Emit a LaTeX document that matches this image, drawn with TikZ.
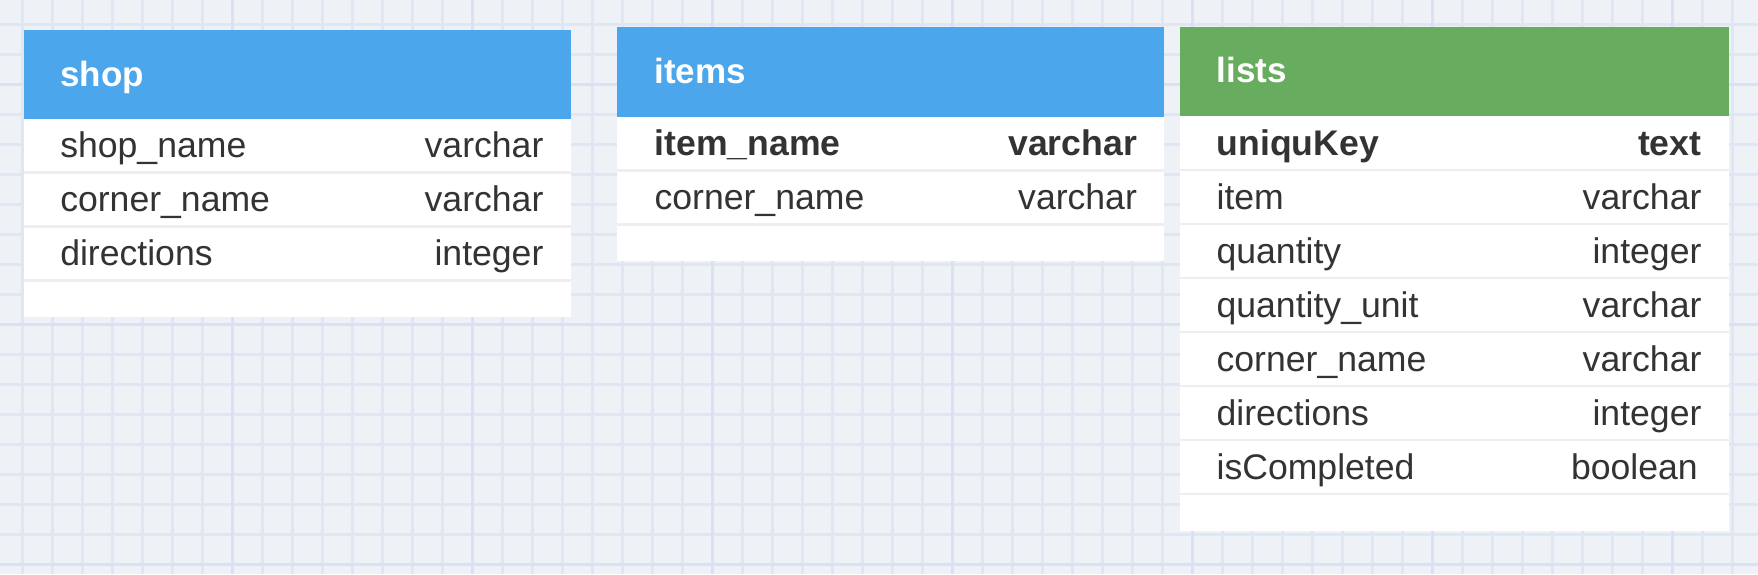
\documentclass[tikz,border=0pt]{standalone}
\usepackage{fontspec}
\setmainfont{Liberation Sans}
\definecolor{bgcol}{HTML}{EEF1F5}
\definecolor{gridminor}{HTML}{E0E7F4}
\definecolor{gridmajor}{HTML}{D9E2F4}
\definecolor{hblue}{HTML}{4CA6EC}
\definecolor{hgreen}{HTML}{68AD5F}
\definecolor{txt}{HTML}{333333}
\definecolor{sepcol}{HTML}{EEEEEE}
\tikzset{
  minorline/.style={draw=gridminor,line width=2.4pt},
  majorline/.style={draw=gridmajor,line width=2.7pt},
  fieldname/.style={anchor=base west,inner sep=0pt,text=txt,font=\fontsize{35.6}{40}\selectfont},
  fieldtype/.style={anchor=base east,inner sep=0pt,text=txt,font=\fontsize{35.6}{40}\selectfont},
  keyname/.style={fieldname,font=\fontsize{35.6}{40}\selectfont\bfseries},
  keytype/.style={fieldtype,font=\fontsize{35.6}{40}\selectfont\bfseries},
  title/.style={anchor=base west,inner sep=0pt,text=white,font=\fontsize{35}{40}\selectfont\bfseries},
  seprule/.style={draw=sepcol,line width=2.7pt},
}
\begin{document}
\begin{tikzpicture}[x=1pt,y=-1pt]
\useasboundingbox (0,0) rectangle (1758,574);
\fill[bgcol] (0,0) rectangle (1758,574);
% grid
\foreach \i in {0,...,57} {\draw[minorline] ({22.3+30*\i},0) -- ({22.3+30*\i},574);}
\foreach \j in {0,...,18} {\draw[minorline] (0,{24.3+30*\j}) -- (1758,{24.3+30*\j});}
\foreach \i in {0,...,6} {\draw[majorline] ({232.3+240*\i},0) -- ({232.3+240*\i},574);}
\foreach \j in {0,...,2} {\draw[majorline] (0,{84.3+240*\j}) -- (1758,{84.3+240*\j});}

% ---------- shop ----------
\fill[white] (24.1,29.5) rectangle (570.6,317);
\fill[hblue] (24.1,29.5) rectangle (570.6,118.5);
\foreach \k in {1,2,3} {\draw[seprule] (24.1,{118.5+54*\k}) -- (570.6,{118.5+54*\k});}
\node[title] (shopT) at (60.1,86) {shop};
\node[fieldname] (shopA) at (60.1,157.5) {shop\_name};
\node[fieldtype] (shopAt) at (543.6,157.5) {varchar};
\node[fieldname] (shopB) at (60.1,211.5) {corner\_name};
\node[fieldtype] (shopBt) at (543.6,211.5) {varchar};
\node[fieldname] (shopC) at (60.1,265.5) {directions};
\node[fieldtype] (shopCt) at (543.6,265.5) {integer};

% ---------- items ----------
\fill[white] (617.4,27) rectangle (1164.1,261);
\fill[hblue] (617.4,27) rectangle (1164.1,116.8);
\foreach \k in {1,2} {\draw[seprule] (617.4,{116.5+54*\k}) -- (1164.1,{116.5+54*\k});}
\node[title] (itemsT) at (654.4,83.5) {items};
\node[keyname] (itemsA) at (654.4,155.5) {item\_name};
\node[keytype] (itemsAt) at (1137.1,155.5) {varchar};
\node[fieldname] (itemsB) at (654.4,209.5) {corner\_name};
\node[fieldtype] (itemsBt) at (1137.1,209.5) {varchar};

% ---------- lists ----------
\fill[white] (1179.5,26.5) rectangle (1729,530.5);
\fill[hgreen] (1179.5,26.5) rectangle (1729,116.2);
\foreach \k in {1,...,7} {\draw[seprule] (1179.5,{116+54*\k}) -- (1729,{116+54*\k});}
\node[title] (listsT) at (1216.4,82.5) {lists};
\node[keyname] (listsA) at (1216.4,155) {uniquKey};
\node[keytype] (listsAt) at (1701.6,155) {text};
\node[fieldname] (listsB) at (1216.4,209) {item};
\node[fieldtype] (listsBt) at (1701.6,209) {varchar};
\node[fieldname] (listsC) at (1216.4,263) {quantity};
\node[fieldtype] (listsCt) at (1701.6,263) {integer};
\node[fieldname] (listsD) at (1216.4,317) {quantity\_unit};
\node[fieldtype] (listsDt) at (1701.6,317) {varchar};
\node[fieldname] (listsE) at (1216.4,371) {corner\_name};
\node[fieldtype] (listsEt) at (1701.6,371) {varchar};
\node[fieldname] (listsF) at (1216.4,425) {directions};
\node[fieldtype] (listsFt) at (1701.6,425) {integer};
\node[fieldname] (listsG) at (1216.4,479) {isCompleted};
\node[fieldtype] (listsGt) at (1698,479) {boolean};
\end{tikzpicture}
\end{document}
